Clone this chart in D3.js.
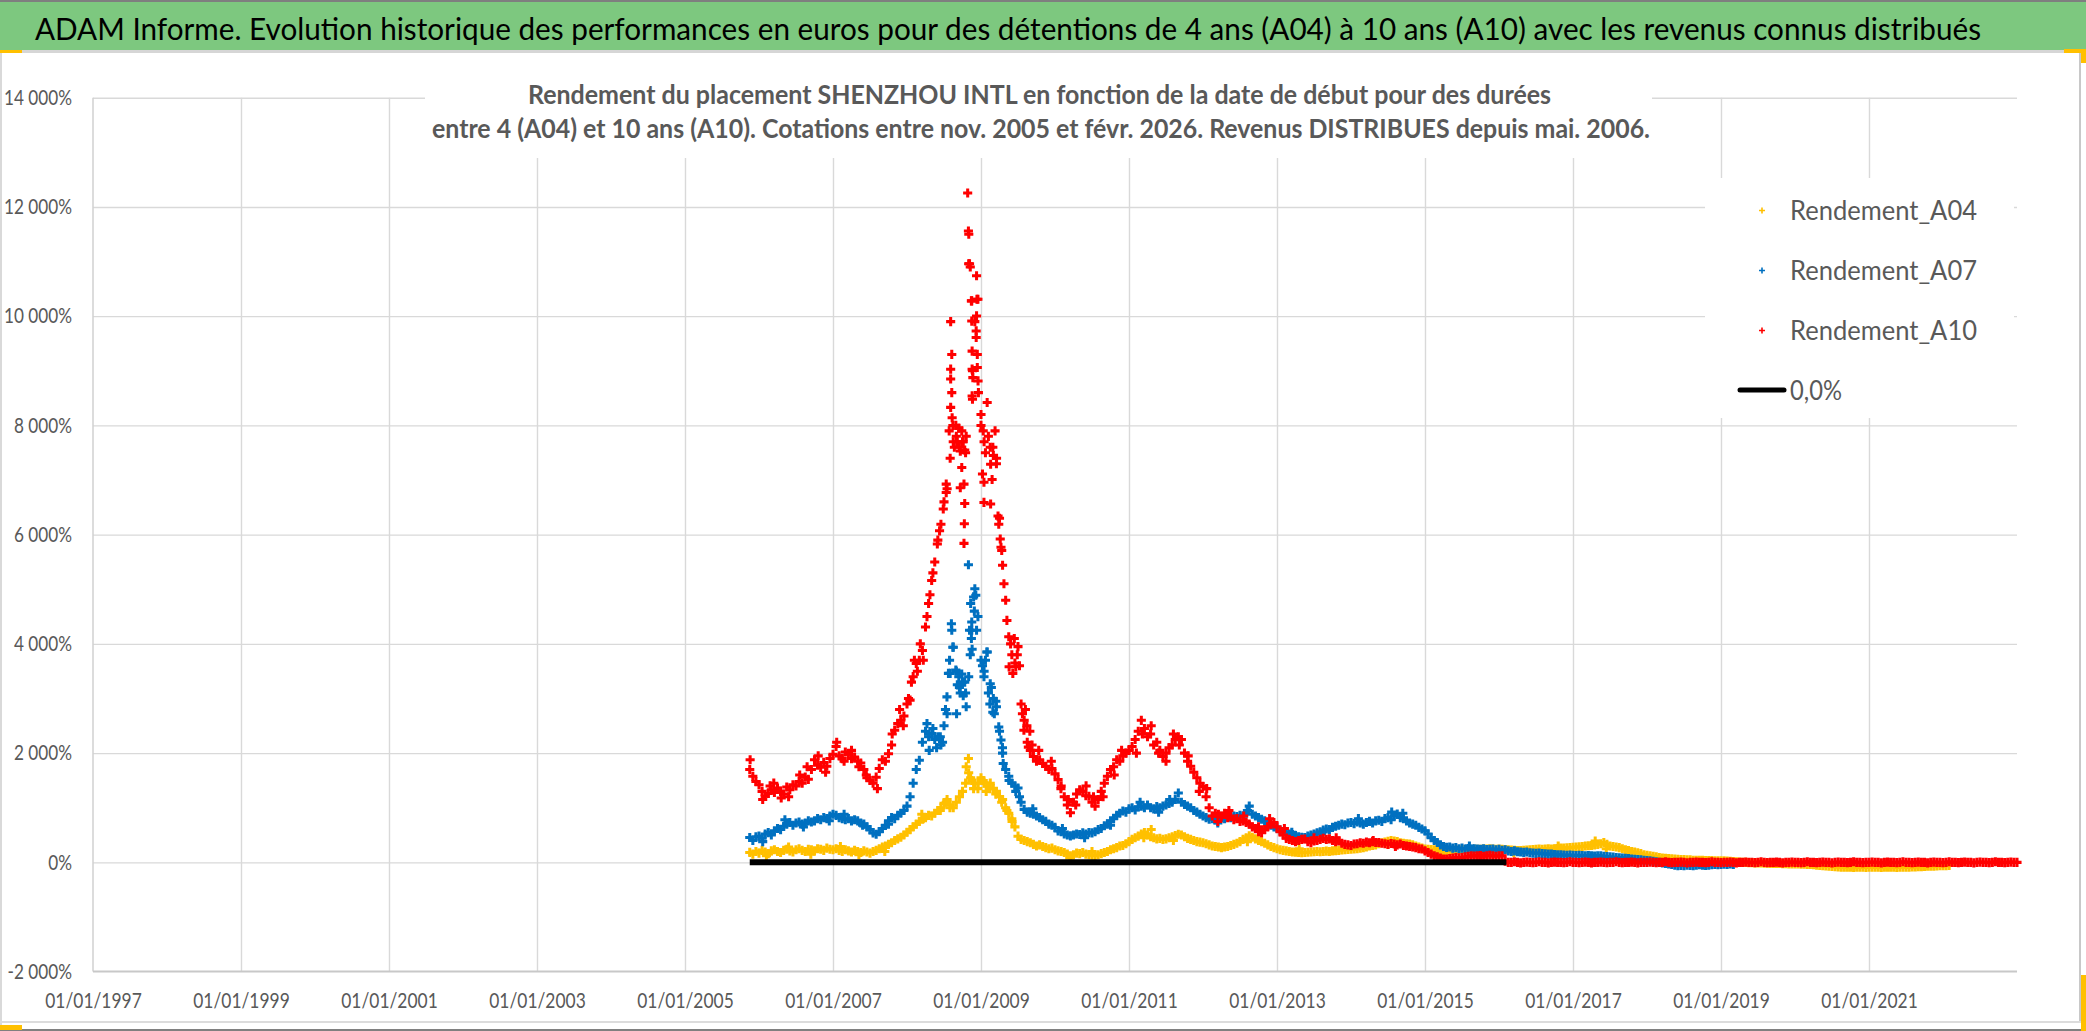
<!DOCTYPE html>
<html><head><meta charset="utf-8">
<script src="https://cdnjs.cloudflare.com/ajax/libs/d3/7.8.5/d3.min.js"></script>
<style>body{margin:0;background:#fff;} svg{display:block;} text{font-family:Lato,"Open Sans","Noto Sans",sans-serif;}</style>
</head><body>
<svg id="chart" width="2086" height="1031"></svg>
<script>
// ---------------- DATA ----------------
const titleText = "ADAM Informe. Evolution historique des performances en euros pour des détentions de 4 ans (A04) à 10 ans (A10) avec les revenus connus distribués";
const subtitleLines = [
  "Rendement du placement SHENZHOU INTL en fonction de la date de début pour des durées",
  "entre 4 (A04) et 10 ans (A10). Cotations entre nov. 2005 et févr. 2026. Revenus DISTRIBUES depuis mai. 2006."
];
const seriesNames = ["Rendement_A04", "Rendement_A07", "Rendement_A10"];
const zeroLineName = "0,0%";
const yTickValues = [-2000, 0, 2000, 4000, 6000, 8000, 10000, 12000, 14000];
const xTickYears = [1997, 1999, 2001, 2003, 2005, 2007, 2009, 2011, 2013, 2015, 2017, 2019, 2021];
const xDomain = [1997, 2023];
const yDomain = [-2000, 14000];

// half-month grid of start dates (decimal years)
const gridStart = 2005.875;
const gridStep = 1 / 24;

// Rendement_A04 (%), one value per half month from mid-Nov 2005
const rendementA04 = [
  182,150,200,
  170,220,190,160,210,230,200,180,220,240,210,190,230,250,220,200,240,230,210,250,240,220,260,240,
  230,250,220,200,230,210,190,220,200,180,210,190,170,200,220,250,280,300,330,360,400,430,460,500,
  550,600,650,700,750,790,820,860,850,900,950,1000,1080,1150,1050,1000,1100,1200,1300,1450,1640,1500,1450,1350,
  1550,1450,1400,1450,1350,1300,1200,1150,1000,900,800,650,480,420,400,380,360,330,300,320,290,270,250,260,
  230,210,200,180,150,120,140,170,160,180,150,140,130,120,140,160,180,200,230,250,270,300,310,340,
  380,420,450,480,520,545,500,470,450,430,440,420,430,450,470,490,515,500,470,440,420,400,380,370,
  360,340,320,300,290,280,270,280,290,310,330,350,380,420,450,485,460,430,400,380,350,320,290,270,
  250,230,220,210,200,190,185,180,175,180,185,190,195,200,195,200,205,200,210,215,220,225,230,235,
  240,245,250,260,270,280,300,310,320,340,360,370,385,400,390,380,360,350,340,335,320,300,280,260,
  245,240,235,230,225,220,215,215,215,220,225,230,230,235,230,235,240,240,240,245,245,250,245,240,
  245,240,235,230,225,220,215,215,220,225,230,235,240,245,240,245,250,245,250,255,260,260,265,270,
  275,280,285,290,300,305,310,320,330,340,365,330,300,290,280,270,250,230,215,200,190,175,160,140,
  130,120,110,100,90,80,75,70,65,60,55,50,50,45,45,40,40,38,40,35,35,32,30,30,
  30,28,25,20,15,10,5,0,0,-5,-5,-10,-10,-12,-15,-15,-18,-20,-20,-22,-25,-25,-28,-30,
  -30,-30,-32,-35,-38,-40,-45,-50,-55,-60,-65,-70,-75,-80,-85,-88,-90,-90,-90,-92,-90,-88,-90,-92,
  -90,-90,-88,-90,-92,-90,-90,-88,-90,-92,-90,-88,-90,-88,-85,-82,-80,-78,-75,-72,-70,-68,-65,-62,
  -60,-60,-58
];
// Rendement_A07 (%)
const rendementA07 = [
  455,400,470,
  480,440,520,545,500,580,620,600,660,700,730,680,720,740,700,720,760,740,760,800,780,820,800,850,
  880,860,820,800,780,800,760,780,760,720,700,650,600,540,515,560,620,680,760,820,800,860,900,950,
  1030,1200,1450,1700,1870,2200,2400,2300,2360,2250,2300,2150,2500,2720,3460,3940,3500,3200,3300,3100,3400,4250,5010,4500,
  3700,3500,3850,3270,3000,2850,2400,2000,1700,1575,1450,1400,1360,1100,970,920,900,880,850,820,780,750,700,680,
  640,575,560,520,500,485,500,520,510,540,520,545,540,560,600,620,670,700,760,800,860,900,940,920,
  980,1000,960,1020,1030,1000,1050,1000,980,1020,1000,1030,1050,1080,1100,1150,1270,1100,1060,1030,1000,950,920,880,
  850,820,790,800,780,800,820,800,830,820,850,840,860,850,900,1030,880,850,820,790,760,720,680,650,
  620,590,560,545,520,510,490,470,460,455,480,500,520,540,560,590,610,600,640,660,680,700,690,720,
  730,710,740,720,700,730,750,720,760,770,750,800,820,780,850,885,820,800,760,720,700,680,640,610,
  580,520,450,400,365,320,290,275,280,260,270,250,260,245,255,240,250,245,240,250,235,240,245,230,
  240,220,230,210,200,210,195,190,183,190,175,170,165,170,160,155,150,150,145,140,140,135,130,135,
  130,125,130,125,120,125,120,115,120,120,110,105,100,95,90,85,80,75,70,60,55,50,45,40,
  35,30,20,10,0,-10,-20,-30,-40,-50,-60,-55,-60,-50,-55,-60,-50,-45,-50,-55,-50,-45,-40,-45,
  -40,-35,-40,-30,-40
];
// Rendement_A10 (%)
const rendementA10 = [
  1700,1575,1480,
  1420,1300,1210,1260,1330,1280,1360,1300,1250,1380,1330,1420,1400,1480,1450,1560,1520,1700,1880,1780,1740,1830,1760,1900,
  1980,2120,1950,1900,2020,1980,1900,1930,1850,1820,1700,1550,1500,1450,1560,1720,1880,1850,1990,2150,2420,2540,2600,2680,
  2900,2970,3400,3640,3700,3880,4310,4740,5160,5500,5900,6190,6600,6840,7400,7700,7800,7600,7700,7500,10960,10280,9900,10310,
  8000,7700,8420,7600,7450,7300,6300,5440,4800,4130,3800,3650,3950,2900,2600,2200,2050,1940,1850,1880,1810,1760,1700,1720,
  1620,1515,1400,1200,1050,910,1100,1250,1330,1300,1220,1210,1100,1030,1150,1300,1450,1575,1700,1750,1880,1850,1950,2000,
  2050,2120,2250,2400,2600,2450,2300,2350,2150,2200,2050,1940,2000,2100,2150,2250,2300,2250,2000,1850,1760,1650,1550,1450,
  1390,1200,1000,850,900,880,850,900,820,850,780,800,750,760,730,700,650,620,560,545,600,650,700,730,
  650,560,500,440,420,400,380,400,420,427,380,360,390,400,420,440,420,430,400,380,390,350,330,320,
  310,335,340,360,350,370,360,380,365,365,350,340,330,345,335,320,335,310,300,290,280,270,250,245,
  210,180,150,120,100,80,60,60,70,80,90,85,90,100,110,120,115,120,125,110,120,130,120,110,
  120,120,20,0,0,10,0,-10,0,5,0,-5,0,10,0,0,-10,0,5,0,0,-5,0,10,
  0,0,-5,0,5,0,-10,0,0,5,0,-5,0,0,10,0,-5,0,0,5,0,-10,0,0,
  0,5,0,-5,0,0,10,0,-5,0,0,5,0,-10,0,0,5,0,0,-5,0,10,0,0,
  -5,0,0,5,0,-10,0,0,5,0,0,-5,0,10,0,-5,0,0,5,0,-10,0,0,5,
  0,0,-5,0,10,0,0,-5,0,5,0,0,-10,0,5,0,0,-5,0,10,0,0,-5,0,
  0,5,0,0,-10,0,5,0,0,-5,0,10,0,0,-5,0,5,0,0,-10,0,5,0,0,
  -5,0,10,0,0,-5,0,5,0,0,-10,0,5,0,0,-5,0,10,0,0,-5,0,5,0,
  0
];
// scattered extra readings around the series: [start date, %]
const extraA04 = [[2008.83,1900],[2008.8,1750],[2008.86,1550],[2008.9,1350],[2008.96,1450],[2009.03,1500],[2009.07,1300],[2009.12,1350],[2009.2,1250],[2009.28,1100],[2009.35,950],[2009.42,750],[2008.53,1100],[2008.58,1000],[2008.2,880],[2008.22,800],[2008.45,950],
  [2006.1,120],[2006.4,280],[2006.7,150],[2007.1,290],[2007.35,140],[2007.7,200],[2010.2,80],[2010.5,200],[2011.2,450],[2011.3,600],[2011.6,400],[2012.6,380],[2013.3,250],[2014.5,330],[2015.2,280],[2016.2,180],[2016.8,300],[2017.45,250],[2017.3,390]];
const extraA07 = [[2008.27,2540],[2008.3,2050],[2008.35,2450],[2008.4,2100],[2008.45,2300],[2008.48,2200],[2008.52,2800],[2008.54,3030],[2008.56,3460],[2008.575,3700],[2008.6,4370],[2008.605,4250],[2008.62,3940],[2008.66,3520],[2008.68,3250],[2008.7,3400],[2008.72,3100],[2008.74,3450],[2008.76,3050],[2008.78,3300],[2008.8,2850],[2008.67,2720],[2008.83,5450],[2008.845,4250],[2008.855,3800],[2008.86,4740],[2008.87,4100],[2008.875,4400],[2008.88,3900],[2008.9,4860],[2008.91,4600],[2008.93,4890],[2008.94,4250],[2009.02,3600],[2009.04,3400],[2009.06,3700],[2009.08,3850],[2009.1,3100],[2009.12,2900],[2009.14,3200],[2009.16,2750],[2009.18,2720],[2009.2,2950],[2009.24,2480],[2009.27,2240],[2009.29,2100],[2009.3,1810],[2009.38,1500],[2009.47,1300],[2009.52,1200],
  [2006.05,380],[2006.35,780],[2006.6,650],[2006.95,760],[2007.15,880],[2007.4,680],[2007.75,700],[2009.7,980],[2010.1,620],[2010.4,450],[2010.75,680],[2011.15,1100],[2011.4,920],[2011.55,1150],[2012.2,720],[2012.6,950],[2013.2,550],[2013.6,520],[2014.1,800],[2014.55,920],[2014.7,900],[2015.6,300]];
const extraA10 = [[2008.82,12256],[2008.83,11560],[2008.835,11500],[2008.845,10960],[2008.855,10900],[2008.87,10280],[2008.875,9910],[2008.88,9360],[2008.88,9030],[2008.885,9000],[2008.89,8875],[2008.88,8540],[2008.885,8480],[2008.94,10740],[2008.945,10310],[2008.94,10005],[2008.935,9730],[2008.935,9610],[2008.95,9300],[2008.96,8815],[2008.95,9060],[2008.965,8600],
  [2008.59,9900],[2008.605,9300],[2008.59,9030],[2008.59,8850],[2008.605,8600],[2008.59,8330],[2008.61,8140],[2008.57,7900],[2008.62,8000],[2008.64,7600],[2008.66,8000],[2008.68,7700],[2008.7,7950],[2008.72,7530],[2008.74,7900],[2008.76,7700],[2008.78,7550],[2008.8,7800],[2008.74,7230],[2008.77,6925],[2008.72,6860],[2008.78,6570],[2008.775,6200],[2008.77,5840],[2008.53,6925],[2008.53,6770],[2008.49,6470],[2008.44,6070],[2008.41,5830],
  [2009.0,8200],[2009.03,7900],[2009.06,7500],[2009.1,7800],[2009.13,7290],[2009.16,7600],[2009.19,7900],[2009.21,7400],[2009.02,7110],[2009.04,6960],[2009.15,7010],[2009.04,6590],[2009.13,6560],[2009.23,6340],[2009.24,6190],[2009.26,5920],[2009.27,5770],[2009.28,5710],[2009.31,5100],[2009.35,4430],[2009.38,3580],[2009.4,4000],[2009.43,3460],[2009.45,4100],[2009.47,3580],[2009.49,3800],[2009.52,3600],[2009.56,2720],[2009.58,2420],[2009.6,2800],[2009.62,2500],[2009.64,2110],[2009.66,2400],[2009.69,2150],
  [2008.02,3000],[2008.06,3300],[2008.1,3700],[2008.14,3500],[2008.18,4000],[2008.22,3700],[2008.27,4500],[2008.31,4900],[2008.35,5300],[2007.9,2800],[2007.95,2500],
  [2005.88,1880],[2006.05,1150],[2006.2,1450],[2006.4,1200],[2006.55,1600],[2006.8,1950],[2007.05,2200],[2007.15,1850],[2007.45,1600],[2007.6,1350],[2007.8,2350],
  [2006.15,1400],[2006.3,1180],[2006.65,1750],[2006.9,1650],[2007.25,2050],[2007.35,1750],[2009.78,2050],[2009.95,1850],[2010.08,1350],[2010.18,1150],[2010.28,1050],[2010.42,1400],[2010.52,1200],[2010.65,1200],[2010.8,1600],[2010.9,2050],[2011.1,2000],[2011.18,2350],[2011.3,2500],[2011.4,2000],[2011.5,1850],[2011.6,2350],[2011.68,2150],[2011.8,1950],[2011.95,1300],[2012.05,1350],[2012.2,750],[2012.35,950],[2012.55,850],[2012.75,650],[2012.9,800],[2013.1,620],[2013.5,450],[2013.8,450],[2014.3,400],[2014.6,290]];
// 0,0% reference line
const zeroLine = [[2005.875, 0], [2016.1, 0]];
const seriesColors = ["#FFC000", "#0070C0", "#FF0000"];

// ---------------- DRAW ----------------
const svg = d3.select("#chart");
const W = 2086, H = 1031;
const plot = {left: 93, right: 2017, top: 97.7, bottom: 971.6};
const x = d3.scaleLinear().domain(xDomain).range([plot.left, plot.right]);
const y = d3.scaleLinear().domain(yDomain).range([plot.bottom, plot.top]);
const textGray = "#595959";

svg.append("rect").attr("width", W).attr("height", H).attr("fill", "#fff");

// frame
svg.append("rect").attr("x",0).attr("y",0).attr("width",W).attr("height",2).attr("fill","#7f7f7f");
svg.append("rect").attr("x",0).attr("y",2).attr("width",W).attr("height",48).attr("fill","#7dc87f");
svg.append("rect").attr("x",0).attr("y",50).attr("width",W).attr("height",3).attr("fill","#d6d6d6");
svg.append("rect").attr("x",0).attr("y",53).attr("width",2).attr("height",H-53).attr("fill","#d9d9d9");
svg.append("rect").attr("x",2079).attr("y",53).attr("width",2).attr("height",969).attr("fill","#c8c8c8");
svg.append("rect").attr("x",0).attr("y",1021).attr("width",2081).attr("height",2).attr("fill","#dcdcdc");
svg.append("rect").attr("x",0).attr("y",1029).attr("width",W).attr("height",2).attr("fill","#808080");
// selection handles
svg.append("rect").attr("x",0).attr("y",50).attr("width",22).attr("height",3).attr("fill","#ffc000");
svg.append("rect").attr("x",0).attr("y",1025).attr("width",22).attr("height",5).attr("fill","#ffc000");
svg.append("rect").attr("x",2064).attr("y",49).attr("width",22).attr("height",4).attr("fill","#ffc000");
svg.append("rect").attr("x",2081).attr("y",49).attr("width",5).attr("height",14).attr("fill","#ffc000");
svg.append("rect").attr("x",2081).attr("y",975).attr("width",5).attr("height",56).attr("fill","#ffc000");

// title
svg.append("text").attr("x", 35).attr("y", 40).attr("font-size", 31).attr("fill", "#000")
  .attr("textLength", 1946).attr("lengthAdjust", "spacingAndGlyphs").text(titleText);

// grid
svg.append("g").attr("transform", `translate(${plot.left},0)`)
  .call(d3.axisLeft(y).tickValues(yTickValues.filter(v => v > yDomain[0])).tickSize(-(plot.right - plot.left)).tickFormat(""))
  .call(g => g.select(".domain").remove())
  .call(g => g.selectAll("line").attr("stroke", "#d9d9d9").attr("stroke-width", 1.4));
svg.append("g").attr("transform", `translate(0,${plot.bottom})`)
  .call(d3.axisBottom(x).tickValues(xTickYears.filter(v => v > xDomain[0])).tickSize(-(plot.bottom - plot.top)).tickFormat(""))
  .call(g => g.select(".domain").remove())
  .call(g => g.selectAll("line").attr("stroke", "#d9d9d9").attr("stroke-width", 1.4));
// axis lines
svg.append("line").attr("x1", plot.left).attr("x2", plot.left).attr("y1", plot.top).attr("y2", plot.bottom)
  .attr("stroke", "#d0d0d0").attr("stroke-width", 1.5);
svg.append("line").attr("x1", plot.left).attr("x2", plot.right).attr("y1", plot.bottom).attr("y2", plot.bottom)
  .attr("stroke", "#c8c8c8").attr("stroke-width", 2);

// axis labels
function condense(sel, refWidth) {
  const nodes = sel.nodes();
  if (!nodes.length) return;
  const k = refWidth / nodes[0].getComputedTextLength();
  nodes.forEach(n => {
    const w = n.getComputedTextLength();
    n.setAttribute("textLength", w * k);
    n.setAttribute("lengthAdjust", "spacingAndGlyphs");
  });
}
const fmtPct = v => d3.format(",")(v).replace(/,/g, " ").replace("−", "-") + "%";
const yAx = svg.append("g").attr("transform", `translate(${plot.left},0)`)
  .call(d3.axisLeft(y).tickValues(yTickValues.slice().reverse()).tickSize(0).tickPadding(21).tickFormat(fmtPct))
  .call(g => g.select(".domain").remove());
yAx.selectAll("text").attr("font-size", 21).attr("fill", textGray).style("font-family", "Lato");
condense(yAx.selectAll("text"), 68);

const xAx = svg.append("g").attr("transform", `translate(0,${plot.bottom})`)
  .call(d3.axisBottom(x).tickValues(xTickYears).tickSize(0).tickPadding(21).tickFormat(v => "01/01/" + v))
  .call(g => g.select(".domain").remove());
xAx.selectAll("text").attr("font-size", 21).attr("fill", textGray).style("font-family", "Lato");
condense(xAx.selectAll("text"), 96.5);

// series markers
const toPoints = (vals, extra) => vals.map((v, i) => [gridStart + i * gridStep, v]).concat(extra);
const allSeries = [toPoints(rendementA04, extraA04), toPoints(rendementA07, extraA07), toPoints(rendementA10, extraA10)];
const cross = d3.symbol(d3.symbolCross, 46);
allSeries.forEach((pts, s) => {
  svg.append("g").selectAll("path").data(pts).join("path")
    .attr("transform", d => `translate(${x(d[0]).toFixed(2)},${y(d[1]).toFixed(2)})`)
    .attr("d", cross).attr("fill", seriesColors[s]);
});

// zero line
svg.append("path").datum(zeroLine)
  .attr("d", d3.line().x(d => x(d[0])).y(d => y(d[1])))
  .attr("stroke", "#000").attr("stroke-width", 6).attr("fill", "none");

// subtitle box
svg.append("rect").attr("x", 425).attr("y", 66).attr("width", 1227).attr("height", 92).attr("fill", "#fff");
const subW = [1023, 1218], subX = [528, 432], subY = [104, 138];
subtitleLines.forEach((t, i) => {
  svg.append("text").attr("x", subX[i]).attr("y", subY[i]).attr("font-size", 26).attr("font-weight", "bold")
    .attr("fill", textGray).attr("textLength", subW[i]).attr("lengthAdjust", "spacingAndGlyphs").text(t);
});

// legend
const lg = svg.append("g");
lg.append("rect").attr("x", 1705).attr("y", 178).attr("width", 309).attr("height", 240).attr("fill", "#fff");
const legY = [220, 280, 340, 400];
seriesNames.forEach((n, i) => {
  const cy = legY[i] - 9.5;
  lg.append("path").attr("d", `M${1759},${cy}h6M${1762},${cy - 3}v6`).attr("stroke", seriesColors[i]).attr("stroke-width", 1.6);
  lg.append("text").attr("x", 1790).attr("y", legY[i]).attr("font-size", 27).attr("fill", textGray)
    .attr("textLength", 187).attr("lengthAdjust", "spacingAndGlyphs").text(n);
});
lg.append("line").attr("x1", 1740).attr("x2", 1784).attr("y1", 390).attr("y2", 390)
  .attr("stroke", "#000").attr("stroke-width", 5).attr("stroke-linecap", "round");
lg.append("text").attr("x", 1790).attr("y", 400).attr("font-size", 27).attr("fill", textGray)
  .attr("textLength", 52).attr("lengthAdjust", "spacingAndGlyphs").text(zeroLineName);
</script>
</body></html>
